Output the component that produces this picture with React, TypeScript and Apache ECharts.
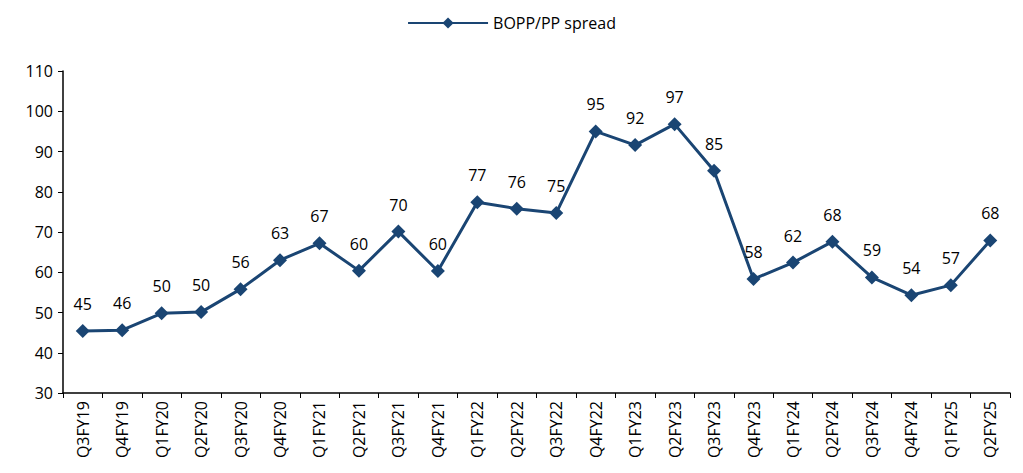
import React, { useEffect, useRef } from "react";
import * as echarts from "echarts";

const categories = ["Q3FY19","Q4FY19","Q1FY20","Q2FY20","Q3FY20","Q4FY20","Q1FY21","Q2FY21","Q3FY21","Q4FY21","Q1FY22","Q2FY22","Q3FY22","Q4FY22","Q1FY23","Q2FY23","Q3FY23","Q4FY23","Q1FY24","Q2FY24","Q3FY24","Q4FY24","Q1FY25","Q2FY25"];
const spread = [45.4, 45.6, 49.8, 50.1, 55.8, 63.0, 67.2, 60.4, 70.1, 60.3, 77.4, 75.8, 74.7, 95.0, 91.6, 96.8, 85.2, 58.3, 62.4, 67.6, 58.7, 54.3, 56.8, 67.9];
const yTicks = { min: 30, max: 110, interval: 10 };

export default function App() {
  const ref = useRef<HTMLDivElement>(null);
  useEffect(() => {
    if (!ref.current) return;
    const chart = echarts.init(ref.current, undefined, { renderer: "svg" });
    const font = "'Open Sans', 'Noto Sans', sans-serif";
    chart.setOption({
      animation: false,
      textStyle: { fontFamily: font },
      legend: {
        top: 2,
        left: "center",
        itemWidth: 80,
        itemHeight: 14,
        itemGap: 6,
        textStyle: { fontSize: 16, color: "#000", fontFamily: font },
        data: ["BOPP/PP spread"],
      },
      grid: { left: 55, right: 5, top: 63, bottom: 72, containLabel: false },
      xAxis: {
        type: "category",
        data: categories,
        boundaryGap: true,
        axisLine: { lineStyle: { color: "#000", width: 1.5 } },
        axisTick: { show: true, alignWithLabel: false, length: 5, lineStyle: { color: "#000" } },
        axisLabel: { rotate: 90, color: "#000", fontSize: 16, margin: 8, fontFamily: font, interval: 0 },
        splitLine: { show: false },
      },
      yAxis: {
        type: "value",
        min: yTicks.min,
        max: yTicks.max,
        interval: yTicks.interval,
        axisLine: { show: true, lineStyle: { color: "#000", width: 1.5 } },
        axisTick: { show: true, length: 5, lineStyle: { color: "#000" } },
        axisLabel: { color: "#000", fontSize: 16, margin: 10, fontFamily: font },
        splitLine: { show: false },
      },
      series: [
        {
          name: "BOPP/PP spread",
          type: "line",
          data: spread,
          symbol: "diamond",
          symbolSize: 14,
          itemStyle: { color: "#1A4573" },
          lineStyle: { color: "#1A4573", width: 3 },
          label: {
            show: true,
            position: "top",
            distance: 12,
            color: "#000",
            fontSize: 16,
            fontFamily: font,
            formatter: (p: any) => String(Math.round(p.value)),
          },
        },
      ],
    });
    return () => chart.dispose();
  }, []);
  return <div ref={ref} style={{ width: 1007, height: 457 }} />;
}
